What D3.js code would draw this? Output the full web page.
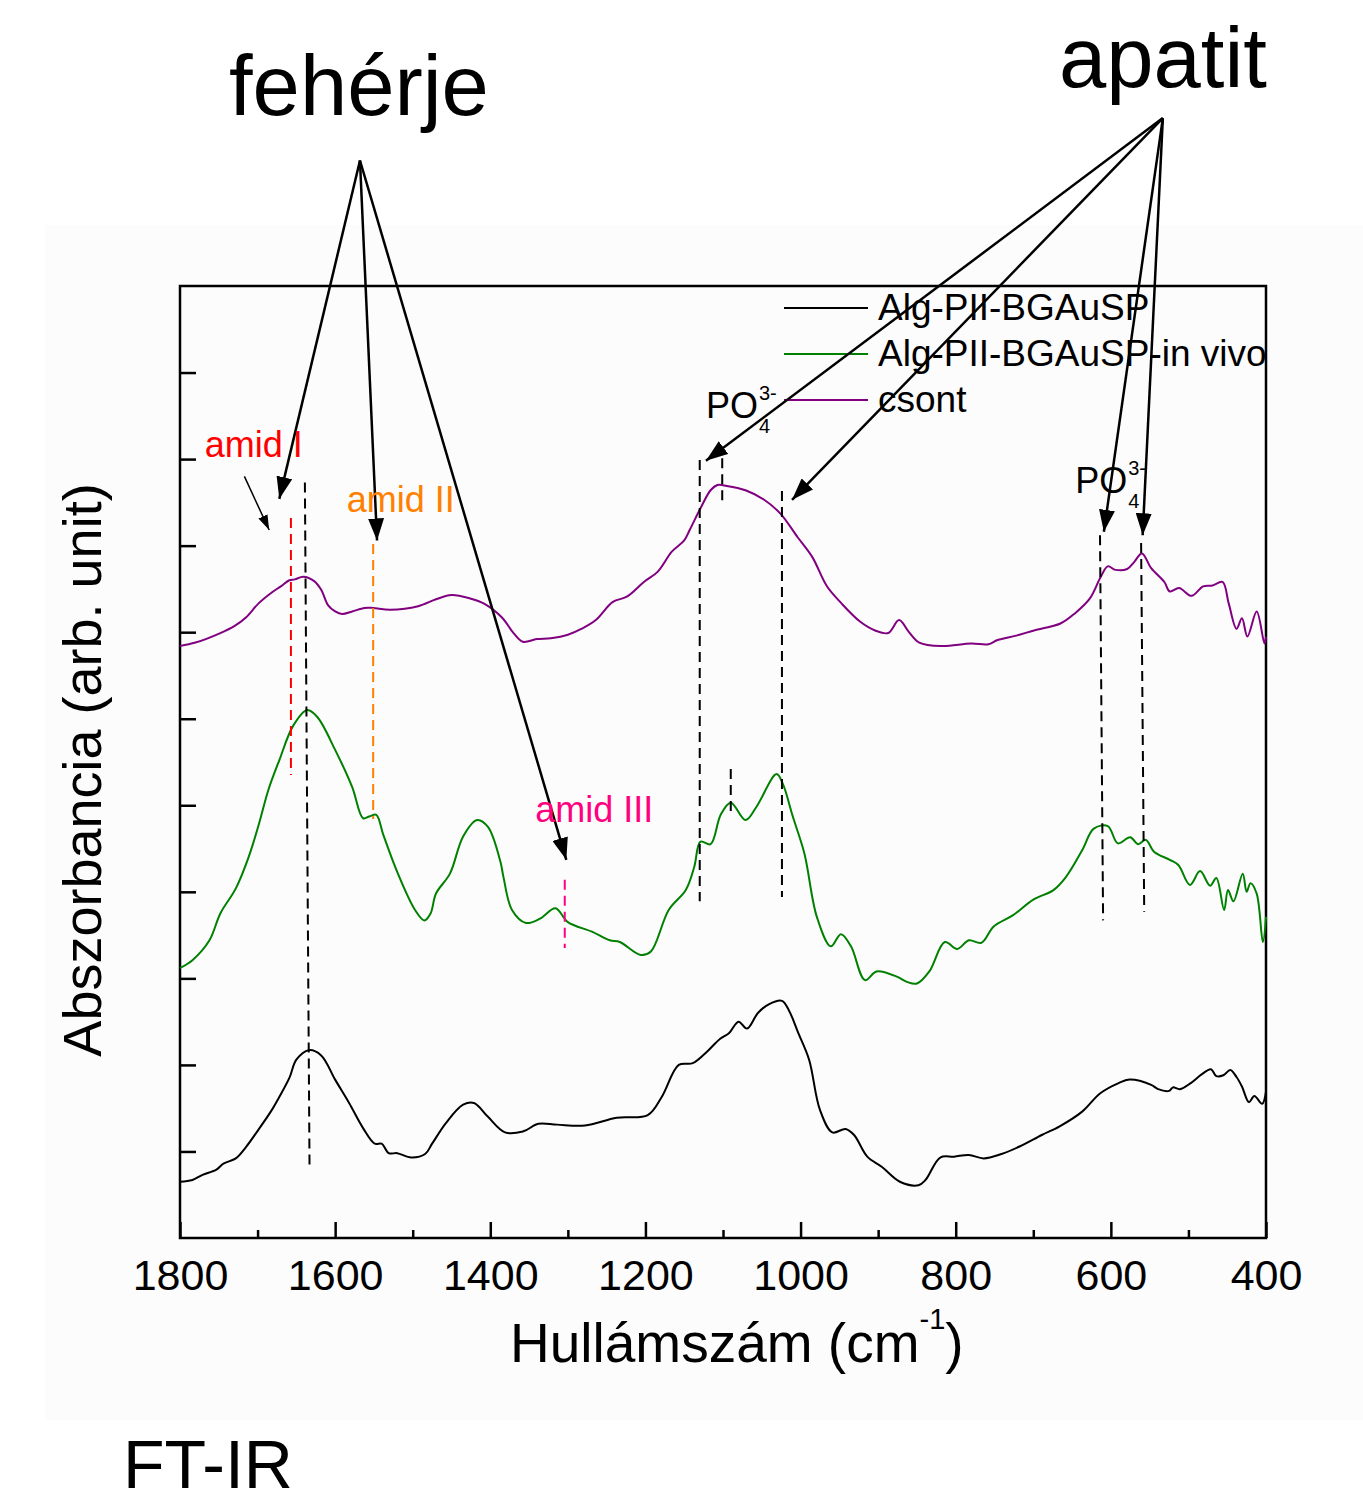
<!DOCTYPE html>
<html>
<head>
<meta charset="utf-8">
<script src="https://cdn.jsdelivr.net/npm/d3@7"></script>
<style>
  body { margin: 0; background: #fff; }
  svg { display: block; font-family: "Liberation Sans", Arial, sans-serif; }
</style>
</head>
<body>
<div id="chart"></div>
<script>
// FT-IR spectra (wavenumber in cm-1, absorbance in arb. units)
const seriesNames = ['Alg-PII-BGAuSP', 'Alg-PII-BGAuSP-in vivo', 'csont'];

const sampleWn = [1800,1784,1771,1753,1744,1728,1715,1699,1683,1672,1659,1650,1634,1618,1600,1582,1564,1549,1540,1531,1520,1502,1484,1475,1457,1435,1421,1403,1381,1358,1338,1314,1278,1237,1197,1179,1157,1139,1121,1104,1092,1080,1069,1055,1041,1024,1015,1003,989,975,959,942,931,914,895,872,848,839,820,802,783,764,741,717,689,666,637,614,590,576,548,539,525,520,511,497,483,471,464,455,446,438,431,422,415,405,400];
const sampleAbs = [0.65,0.67,0.73,0.79,0.86,0.92,1.05,1.25,1.46,1.63,1.85,2.06,2.17,2.11,1.83,1.56,1.27,1.09,1.09,0.98,0.98,0.93,0.97,1.09,1.33,1.54,1.56,1.40,1.22,1.23,1.32,1.31,1.30,1.39,1.42,1.63,2.00,2.02,2.15,2.30,2.37,2.50,2.42,2.60,2.70,2.74,2.63,2.37,2.06,1.48,1.22,1.26,1.19,0.94,0.82,0.65,0.61,0.67,0.93,0.94,0.96,0.92,0.97,1.06,1.19,1.29,1.46,1.67,1.79,1.83,1.77,1.72,1.70,1.74,1.72,1.79,1.89,1.95,1.87,1.88,1.94,1.86,1.75,1.57,1.64,1.55,1.69];

const inVivoWn = [1800,1784,1762,1748,1728,1712,1699,1686,1672,1654,1636,1623,1600,1578,1564,1556,1547,1538,1520,1497,1485,1477,1470,1452,1435,1417,1403,1387,1383,1372,1354,1336,1316,1300,1269,1246,1233,1206,1193,1170,1148,1137,1129,1116,1103,1090,1071,1057,1031,1023,1010,995,979,961,948,935,917,902,876,863,850,834,814,798,783,767,751,726,700,674,658,637,622,604,591,575,565,555,544,524,513,498,485,472,464,454,449,442,430,425,420,412,404,400];
const inVivoAbs = [3.12,3.21,3.44,3.75,4.04,4.39,4.76,5.18,5.52,5.92,6.10,6.02,5.64,5.21,4.85,4.87,4.89,4.66,4.23,3.79,3.67,3.75,3.98,4.21,4.64,4.83,4.75,4.35,4.17,3.79,3.64,3.69,3.81,3.65,3.54,3.44,3.42,3.27,3.31,3.79,4.02,4.29,4.58,4.55,4.89,5.03,4.83,4.98,5.36,5.25,4.87,4.44,3.71,3.37,3.51,3.37,2.98,3.08,3.02,2.96,2.94,3.08,3.42,3.34,3.44,3.41,3.60,3.73,3.91,4.02,4.17,4.48,4.73,4.76,4.56,4.63,4.55,4.60,4.46,4.37,4.31,4.08,4.24,4.07,4.16,3.79,4.02,3.89,4.21,4.00,4.10,3.98,3.42,3.71];

const boneWn = [1800,1780,1748,1730,1715,1699,1683,1670,1659,1652,1641,1627,1618,1609,1600,1591,1578,1562,1551,1529,1493,1470,1450,1426,1408,1385,1370,1358,1340,1322,1300,1282,1264,1242,1224,1202,1184,1166,1150,1143,1128,1116,1107,1095,1071,1047,1026,1004,985,966,947,923,904,887,873,861,847,818,780,758,746,722,699,665,646,627,613,604,594,579,570,560,548,531,524,512,496,481,469,456,448,438,431,424,412,402,400];
const boneAbs = [6.84,6.88,6.99,7.07,7.17,7.33,7.45,7.53,7.60,7.61,7.64,7.59,7.49,7.31,7.24,7.21,7.24,7.28,7.28,7.26,7.30,7.38,7.43,7.39,7.33,7.17,6.99,6.89,6.92,6.93,6.97,7.04,7.14,7.35,7.41,7.58,7.70,7.93,8.06,8.18,8.45,8.64,8.70,8.69,8.64,8.53,8.37,8.10,7.87,7.53,7.33,7.12,7.02,6.99,7.14,7.01,6.88,6.84,6.87,6.86,6.91,6.96,7.02,7.10,7.22,7.39,7.64,7.76,7.72,7.73,7.81,7.91,7.74,7.58,7.47,7.51,7.42,7.53,7.54,7.58,7.33,7.04,7.16,6.95,7.24,6.87,6.95];

const xMajorTicks = [1800, 1600, 1400, 1200, 1000, 800, 600, 400];
const xMinorTicks = [1700, 1500, 1300, 1100, 900, 700, 500];
const yTicks = [1, 2, 3, 4, 5, 6, 7, 8, 9, 10];

// band markers (dashed lines): wavenumber at top / bottom, absorbance at top / bottom
const markerWnTop = [1657, 1639, 1551, 1304, 1130, 1101, 1090, 1024, 614, 561];
const markerWnBottom = [1657, 1633, 1551, 1304, 1130, 1101, 1090, 1024, 610, 557];
const markerAbsTop = [8.32, 8.73, 8.02, 4.14, 8.99, 9.01, 5.42, 8.63, 8.12, 8.03];
const markerAbsBottom = [5.35, 0.79, 4.84, 3.35, 3.89, 8.47, 4.87, 3.94, 3.67, 3.77];
const markerColors = ['#ff0000', '#000', '#ff8000', '#ff0080', '#000', '#000', '#000', '#000', '#000', '#000'];

// arrows from the group labels to the bands
const proteinBase = [1568, 12.45];
const proteinTips = [[1672, 8.54], [1546, 8.06], [1302, 4.37]];
const apatiteBase = [533, 12.94];
const apatiteTips = [[1122, 8.98], [1011, 8.53], [609, 8.16], [559, 8.12]];
const amidIArrow = [[1717, 8.80], [1685, 8.18]];

const amidLabels = ['amid I', 'amid II', 'amid III'];
const amidLabelWn = [1768, 1585, 1342];
const amidLabelAbs = [9.02, 8.39, 4.81];
const amidColors = ['#ff0000', '#ff8000', '#ff0080'];
const phosphateWn = [1122, 646];
const phosphateAbs = [9.47, 8.61];

const width = 1363, height = 1503;
const margin = { top: 286, right: 97, bottom: 265, left: 180 };
const plotW = width - margin.left - margin.right;
const plotH = height - margin.top - margin.bottom;

const svg = d3.select('#chart')
    .append('svg')
    .attr('width', width)
    .attr('height', height);

svg.append('rect')
    .attr('x', 45).attr('y', 225)
    .attr('width', width - 45).attr('height', 1195)
    .attr('fill', '#fcfcfc');

const defs = svg.append('defs');
defs.append('marker')
    .attr('id', 'head')
    .attr('viewBox', '0 0 22 16')
    .attr('refX', 22).attr('refY', 8)
    .attr('markerWidth', 22).attr('markerHeight', 16)
    .attr('markerUnits', 'userSpaceOnUse')
    .attr('orient', 'auto')
    .append('path').attr('d', 'M0,0L22,8L0,16Z').attr('fill', '#000');
defs.append('marker')
    .attr('id', 'headSmall')
    .attr('viewBox', '0 0 15 10')
    .attr('refX', 15).attr('refY', 5)
    .attr('markerWidth', 15).attr('markerHeight', 10)
    .attr('markerUnits', 'userSpaceOnUse')
    .attr('orient', 'auto')
    .append('path').attr('d', 'M0,0L15,5L0,10Z').attr('fill', '#000');

const g = svg.append('g').attr('transform', `translate(${margin.left},${margin.top})`);

const x = d3.scaleLinear().domain([1800, 400]).range([0, plotW]);
const y = d3.scaleLinear().domain([0, 11]).range([plotH, 0]);

// axes
const xAxis = g.append('g')
    .attr('transform', `translate(0,${plotH})`)
    .call(d3.axisBottom(x).tickValues(xMajorTicks).tickSize(-16).tickPadding(21).tickFormat(d3.format('d')));
xAxis.select('.domain').remove();
xAxis.selectAll('line').attr('stroke-width', 2.5);
xAxis.selectAll('text').attr('font-size', 43).attr('fill', '#000')
    .attr('font-family', '"Liberation Sans", Arial, sans-serif');

const xMinor = g.append('g')
    .attr('transform', `translate(0,${plotH})`)
    .call(d3.axisBottom(x).tickValues(xMinorTicks).tickSize(-8).tickFormat(''));
xMinor.select('.domain').remove();
xMinor.selectAll('line').attr('stroke-width', 2.5);

const yAxis = g.append('g')
    .call(d3.axisLeft(y).tickValues(yTicks).tickSize(-16).tickFormat(''));
yAxis.select('.domain').remove();
yAxis.selectAll('line').attr('stroke-width', 2.5);

g.append('rect')
    .attr('width', plotW).attr('height', plotH)
    .attr('fill', 'none').attr('stroke', '#000').attr('stroke-width', 2.5);

// spectra
const line = d3.line()
    .x(d => x(d[0]))
    .y(d => y(d[1]))
    .curve(d3.curveCatmullRom.alpha(0.5));

const series = [
    { name: seriesNames[0], color: '#000000', points: d3.zip(sampleWn, sampleAbs) },
    { name: seriesNames[1], color: '#008000', points: d3.zip(inVivoWn, inVivoAbs) },
    { name: seriesNames[2], color: '#800080', points: d3.zip(boneWn, boneAbs) }
];

g.selectAll('path.spectrum')
    .data(series)
    .join('path')
    .attr('class', 'spectrum')
    .attr('d', d => line(d.points))
    .attr('fill', 'none')
    .attr('stroke', d => d.color)
    .attr('stroke-width', 2);

// dashed band markers
g.selectAll('line.band')
    .data(markerWnTop.map((w, i) => i))
    .join('line')
    .attr('class', 'band')
    .attr('x1', i => x(markerWnTop[i]))
    .attr('x2', i => x(markerWnBottom[i]))
    .attr('y1', i => y(markerAbsTop[i]))
    .attr('y2', i => y(markerAbsBottom[i]))
    .attr('stroke', i => markerColors[i])
    .attr('stroke-width', 2)
    .attr('stroke-dasharray', '10,6');

// legend
const legend = g.append('g').attr('transform', `translate(${784 - margin.left},${308 - margin.top})`);
series.forEach((s, i) => {
    const row = legend.append('g').attr('transform', `translate(0,${i * 46})`);
    row.append('line').attr('x1', 0).attr('x2', 84).attr('stroke', s.color).attr('stroke-width', 2);
    row.append('text').attr('x', 94).attr('y', 12).attr('font-size', 37).attr('fill', '#000').text(s.name);
});

// arrows
const arrows = [];
proteinTips.forEach(t => arrows.push([proteinBase, t]));
apatiteTips.forEach(t => arrows.push([apatiteBase, t]));
g.selectAll('line.arrow')
    .data(arrows)
    .join('line')
    .attr('class', 'arrow')
    .attr('x1', d => x(d[0][0])).attr('y1', d => y(d[0][1]))
    .attr('x2', d => x(d[1][0])).attr('y2', d => y(d[1][1]))
    .attr('stroke', '#000').attr('stroke-width', 2.5)
    .attr('marker-end', 'url(#head)');

g.append('line')
    .attr('x1', x(amidIArrow[0][0])).attr('y1', y(amidIArrow[0][1]))
    .attr('x2', x(amidIArrow[1][0])).attr('y2', y(amidIArrow[1][1]))
    .attr('stroke', '#000').attr('stroke-width', 1.5)
    .attr('marker-end', 'url(#headSmall)');

// amide labels
g.selectAll('text.amid')
    .data(amidLabels)
    .join('text')
    .attr('class', 'amid')
    .attr('x', (d, i) => x(amidLabelWn[i]))
    .attr('y', (d, i) => y(amidLabelAbs[i]))
    .attr('font-size', 36)
    .attr('fill', (d, i) => amidColors[i])
    .text(d => d);

// PO4 3- labels
phosphateWn.forEach((w, i) => {
    const px = x(w), py = y(phosphateAbs[i]);
    const po = g.append('text').attr('x', px).attr('y', py).attr('font-size', 36).attr('fill', '#000').text('PO');
    const end = px + po.node().getComputedTextLength() + 1;
    g.append('text').attr('x', end).attr('y', py - 18).attr('font-size', 20).attr('fill', '#000').text('3-');
    g.append('text').attr('x', end).attr('y', py + 15).attr('font-size', 20).attr('fill', '#000').text('4');
});

// axis titles
const xTitle = svg.append('text')
    .attr('x', 510).attr('y', 1362)
    .attr('font-size', 55).attr('fill', '#000');
xTitle.append('tspan').text('Hullámszám (cm');
xTitle.append('tspan').attr('font-size', 29).attr('dy', -33).text('-1');
xTitle.append('tspan').attr('dy', 33).text(')');

svg.append('text')
    .attr('transform', `translate(101,${margin.top + plotH / 2 + 8}) rotate(-90)`)
    .attr('text-anchor', 'middle')
    .attr('font-size', 54).attr('fill', '#000')
    .text('Abszorbancia (arb. unit)');

// group labels
svg.append('text').attr('x', 229).attr('y', 115).attr('font-size', 85).attr('fill', '#000').text('fehérje');
svg.append('text').attr('x', 1059).attr('y', 87).attr('font-size', 85).attr('fill', '#000').text('apatit');
svg.append('text').attr('x', 123).attr('y', 1488).attr('font-size', 68).attr('fill', '#000').text('FT-IR');
</script>
</body>
</html>
